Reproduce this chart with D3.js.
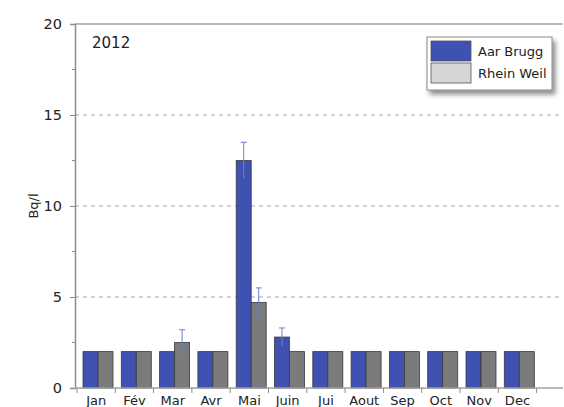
<!DOCTYPE html>
<html>
<head>
<meta charset="utf-8">
<script src="https://cdn.jsdelivr.net/npm/d3@7"></script>
<style>
  html, body { margin: 0; padding: 0; background: #fff; }
  svg { display: block; font-family: "DejaVu Sans", Verdana, sans-serif; }
</style>
</head>
<body>
<svg id="chart" width="564" height="407"></svg>
<script>
// Monthly activity (Bq/l), 2012
const months = ["Jan", "Fév", "Mar", "Avr", "Mai", "Juin", "Jui", "Aout", "Sep", "Oct", "Nov", "Dec"];
const seriesNames = ["Aar Brugg", "Rhein Weil"];
const aarBrugg  = [2, 2, 2, 2, 12.5, 2.8, 2, 2, 2, 2, 2, 2];
const rheinWeil = [2, 2, 2.5, 2, 4.7, 2, 2, 2, 2, 2, 2, 2];
const aarErr    = [0, 0, 0, 0, 1.0, 0.5, 0, 0, 0, 0, 0, 0];
const rheinErr  = [0, 0, 0.7, 0, 0.8, 0, 0, 0, 0, 0, 0, 0];
const yTicks = [0, 5, 10, 15, 20];
const yMinorTicks = [2.5, 7.5, 12.5, 17.5];
const yearLabel = "2012";
const yLabel = "Bq/l";

const svg = d3.select("#chart");
const plotLeft = 75, plotRight = 563, plotTop = 24, plotBottom = 388;
const bandStart = 77, bandEnd = 536.6;

const y = d3.scaleLinear().domain([0, 20]).range([plotBottom, plotTop]);
const x = d3.scaleBand().domain(months).range([bandStart, bandEnd]).padding(0);
const xs = d3.scaleBand().domain(seriesNames).range([6, 36]).padding(0);
const edges = d3.scaleLinear().domain([0, months.length]).range([bandStart, bandEnd]);

const colors = { "Aar Brugg": "#3f51b1", "Rhein Weil": "#7b7b7b" };
const legendColors = { "Aar Brugg": "#3f51b1", "Rhein Weil": "#d6d6d6" };

const defs = svg.append("defs");
const f = defs.append("filter").attr("id", "shadow").attr("x", "-10%").attr("y", "-10%").attr("width", "130%").attr("height", "140%");
f.append("feDropShadow").attr("dx", 3).attr("dy", 4).attr("stdDeviation", 2.5).attr("flood-color", "#000").attr("flood-opacity", 0.45);

// dashed gridlines
svg.append("g").selectAll("line").data([5, 10, 15]).join("line")
  .attr("x1", plotLeft).attr("x2", plotRight)
  .attr("y1", d => y(d)).attr("y2", d => y(d))
  .attr("stroke", "#8290c4").attr("stroke-width", 0.8).attr("stroke-dasharray", "4,4");

// top frame line
svg.append("line").attr("x1", plotLeft).attr("x2", plotRight).attr("y1", y(20)).attr("y2", y(20))
  .attr("stroke", "#a0a0a0").attr("stroke-width", 1.5);

// bars
const rows = months.map((m, i) => ({
  m,
  vals: [
    { s: "Aar Brugg", v: aarBrugg[i], e: aarErr[i] },
    { s: "Rhein Weil", v: rheinWeil[i], e: rheinErr[i] }
  ]
}));

const groups = svg.append("g").selectAll("g").data(rows).join("g")
  .attr("transform", d => `translate(${x(d.m)},0)`);

groups.selectAll("rect").data(d => d.vals).join("rect")
  .attr("x", d => xs(d.s))
  .attr("width", xs.bandwidth())
  .attr("y", d => y(d.v))
  .attr("height", d => y(0) - y(d.v))
  .attr("fill", d => colors[d.s])
  .attr("stroke", "#3a3a3a").attr("stroke-width", 0.8);

// error bars
const errs = groups.selectAll("g.err").data(d => d.vals.filter(v => v.e > 0)).join("g").attr("class", "err");
errs.append("line")
  .attr("x1", d => xs(d.s) + xs.bandwidth() / 2).attr("x2", d => xs(d.s) + xs.bandwidth() / 2)
  .attr("y1", d => y(d.v + d.e)).attr("y2", d => y(d.v - d.e))
  .attr("stroke", "#6a7fd0").attr("stroke-width", 1);
errs.append("line")
  .attr("x1", d => xs(d.s) + xs.bandwidth() / 2 - 3).attr("x2", d => xs(d.s) + xs.bandwidth() / 2 + 3)
  .attr("y1", d => y(d.v + d.e)).attr("y2", d => y(d.v + d.e))
  .attr("stroke", "#6a7fd0").attr("stroke-width", 1);

// y axis
const yAxis = svg.append("g").attr("transform", `translate(${plotLeft},0)`)
  .call(d3.axisLeft(y).tickValues(yTicks).tickSize(5).tickPadding(8).tickFormat(d3.format("d")));
yAxis.select(".domain").attr("stroke", "#8c8c8c").attr("stroke-width", 1.5);
yAxis.selectAll(".tick line").attr("stroke", "#8c8c8c");
yAxis.selectAll("text").attr("font-size", 14.5).attr("fill", "#222").attr("font-family", "DejaVu Sans, sans-serif");
svg.append("g").selectAll("line").data(yMinorTicks).join("line")
  .attr("x1", plotLeft - 3).attr("x2", plotLeft).attr("y1", d => y(d)).attr("y2", d => y(d))
  .attr("stroke", "#8c8c8c");

// x axis
svg.append("line").attr("x1", plotLeft).attr("x2", plotRight).attr("y1", plotBottom).attr("y2", plotBottom)
  .attr("stroke", "#a0a0a0").attr("stroke-width", 1.5);
svg.append("g").selectAll("line").data(d3.range(months.length + 1)).join("line")
  .attr("x1", d => edges(d)).attr("x2", d => edges(d))
  .attr("y1", plotBottom).attr("y2", plotBottom + 5)
  .attr("stroke", "#8c8c8c");
const xAxis = svg.append("g").attr("transform", `translate(0,${plotBottom})`)
  .call(d3.axisBottom(x).tickSize(0).tickPadding(8));
xAxis.select(".domain").remove();
xAxis.selectAll("text").attr("font-size", 13).attr("fill", "#222").attr("font-family", "DejaVu Sans, sans-serif");

// labels
svg.append("text").attr("x", 92).attr("y", 48).attr("font-size", 15).attr("fill", "#222").text(yearLabel);
svg.append("text").attr("transform", `translate(38,${y(10)}) rotate(-90)`)
  .attr("text-anchor", "middle").attr("font-size", 13).attr("fill", "#222").text(yLabel);

// legend
const lg = svg.append("g").attr("transform", "translate(427,37)");
lg.append("rect").attr("width", 125).attr("height", 53).attr("fill", "#fff")
  .attr("stroke", "#888").attr("stroke-width", 1).attr("filter", "url(#shadow)");
seriesNames.forEach((s, i) => {
  lg.append("rect").attr("x", 4).attr("y", 4 + i * 22).attr("width", 40).attr("height", 20)
    .attr("fill", legendColors[s]).attr("stroke", "#555").attr("stroke-width", 0.8);
  lg.append("text").attr("x", 51).attr("y", 19 + i * 22).attr("font-size", 13).attr("fill", "#222").text(s);
});
</script>
</body>
</html>
